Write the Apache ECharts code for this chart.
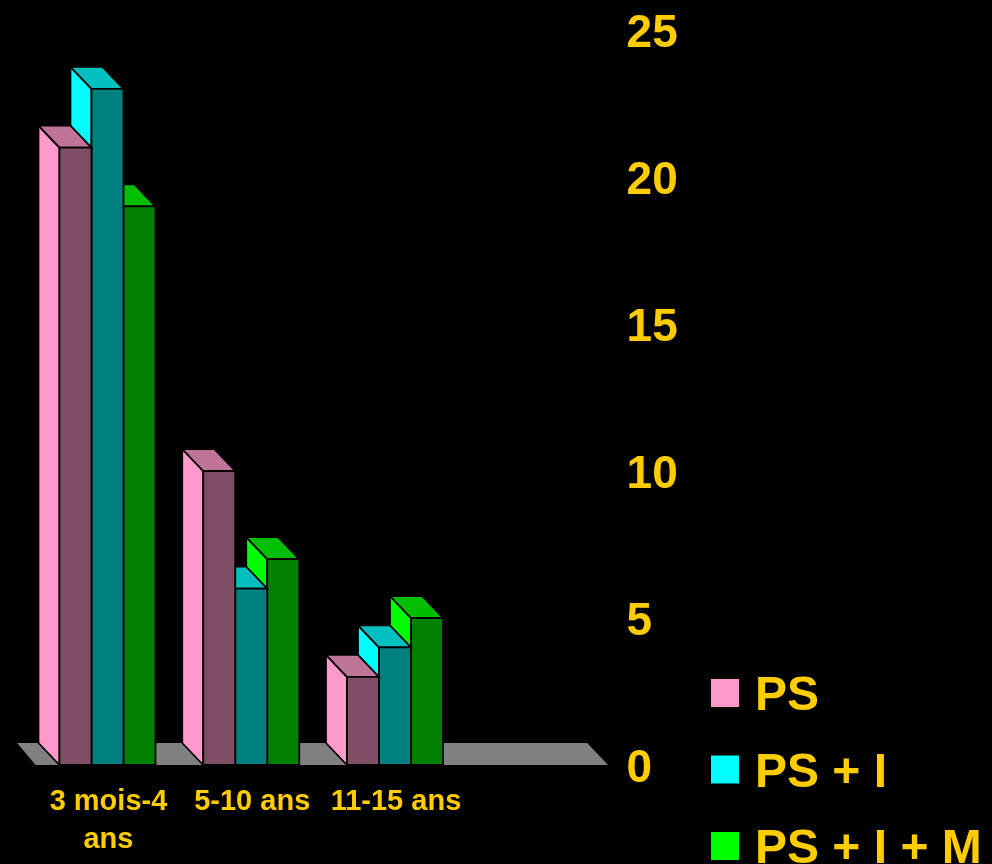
<!DOCTYPE html>
<html>
<head>
<meta charset="utf-8">
<style>
  html, body { margin: 0; padding: 0; background: #000; overflow: hidden; }
  #chart { width: 992px; height: 864px; }
</style>
<script src="https://cdn.jsdelivr.net/npm/echarts@6/dist/echarts.min.js"></script>
</head>
<body>
<div id="chart"></div>
<script>
// Age groups; the fourth slot is left empty on purpose.
const categories = ['3 mois-4\nans', '5-10 ans', '11-15 ans', ''];
const valuesPS = [21, 10, 3];
const valuesPSI = [23, 6, 4];
const valuesPSIM = [19, 7, 5];
const yTicks = [0, 5, 10, 15, 20, 25];

const GOLD = '#FFCC00';
const DEPTH_X = 21;
const DEPTH_Y = 22;
const BAR_RATIO = 32 / 143.75;
const FLOOR_INSET = 2.5;

function shade(hex, k) {
  const n = parseInt(hex.slice(1), 16);
  const c = [(n >> 16) & 255, (n >> 8) & 255, n & 255].map(v => Math.round(v * k));
  return 'rgb(' + c.join(',') + ')';
}

// Box with a lit left side, a mid-tone top and a dark front, receding up and left.
function boxRenderer(slot, base) {
  return function (params, api) {
    const top = api.coord([api.value(0), api.value(1)]);
    const bottom = api.coord([api.value(0), 0]);
    const w = api.size([1, 0])[0] * BAR_RATIO;
    const x0 = top[0] - 1.5 * w + slot * w;
    const x1 = x0 + w;
    const yT = top[1];
    const yB = bottom[1];
    const stroke = { stroke: '#000', lineWidth: 1.8, lineJoin: 'miter' };
    const face = (pts, fill) => ({
      type: 'polygon',
      shape: { points: pts },
      style: Object.assign({ fill: fill }, stroke)
    });
    return {
      type: 'group',
      children: [
        face([[x0 - DEPTH_X, yT - DEPTH_Y], [x0, yT], [x0, yB], [x0 - DEPTH_X, yB - DEPTH_Y]], base),
        face([[x0 - DEPTH_X, yT - DEPTH_Y], [x1 - DEPTH_X, yT - DEPTH_Y], [x1, yT], [x0, yT]], shade(base, 0.75)),
        face([[x0, yT], [x1, yT], [x1, yB], [x0, yB]], shade(base, 0.5))
      ]
    };
  };
}

// Grey floor running under the whole category axis.
function floorRenderer(params) {
  const g = params.coordSys;
  const yB = g.y + g.height;
  const xR = g.x + g.width - FLOOR_INSET;
  return {
    type: 'polygon',
    shape: {
      points: [
        [g.x, yB],
        [g.x - DEPTH_X + 2.5, yB - DEPTH_Y],
        [xR - DEPTH_X, yB - DEPTH_Y],
        [xR, yB]
      ]
    },
    style: { fill: '#808080' }
  };
}

function boxSeries(name, values, slot, color) {
  return {
    type: 'custom',
    name: name,
    coordinateSystem: 'cartesian2d',
    clip: false,
    itemStyle: { color: color },
    encode: { x: 0, y: 1 },
    data: values.map((v, i) => [i, v]),
    renderItem: boxRenderer(slot, color)
  };
}

const chart = echarts.init(document.getElementById('chart'), null, { renderer: 'canvas' });
chart.setOption({
  animation: false,
  backgroundColor: '#000',
  grid: { left: 35.6, top: 30, width: 575, height: 735 },
  legend: {
    data: ['PS', 'PS + I', 'PS + I + M'],
    orient: 'vertical',
    left: 711,
    top: 673,
    height: 400,
    padding: 0,
    icon: 'rect',
    itemWidth: 28,
    itemHeight: 28,
    itemGap: 28.5,
    itemStyle: { borderWidth: 0 },
    selectedMode: false,
    formatter: '{t|{name}}',
    textStyle: {
      color: GOLD,
      fontFamily: 'Liberation Sans',
      fontWeight: 'bold',
      fontSize: 48,
      padding: [0, 0, 0, 11],
      rich: {
        t: {
          color: GOLD,
          fontFamily: 'Liberation Sans',
          fontWeight: 'bold',
          fontSize: 48,
          padding: [8, 0, 0, 0]
        }
      }
    }
  },
  xAxis: {
    type: 'category',
    data: categories,
    axisLine: { show: false },
    axisTick: { show: false },
    splitLine: { show: false },
    axisLabel: {
      interval: 0,
      color: GOLD,
      fontFamily: 'Liberation Sans',
      fontWeight: 'bold',
      fontSize: 29,
      lineHeight: 38,
      margin: 18,
      padding: [0, 0, 0, 2]
    }
  },
  yAxis: {
    type: 'value',
    position: 'right',
    min: yTicks[0],
    max: yTicks[yTicks.length - 1],
    interval: yTicks[1] - yTicks[0],
    axisLine: { show: false },
    axisTick: { show: false },
    splitLine: { show: false },
    axisLabel: {
      color: GOLD,
      fontFamily: 'Liberation Sans',
      fontWeight: 'bold',
      fontSize: 46,
      margin: 16,
      align: 'left',
      verticalAlign: 'top',
      lineHeight: 8
    }
  },
  series: [
    {
      type: 'custom',
      name: 'floor',
      coordinateSystem: 'cartesian2d',
      silent: true,
      data: [[0, 0]],
      renderItem: floorRenderer
    },
    // Right-most box first so each box overlaps the one behind it.
    boxSeries('PS + I + M', valuesPSIM, 2, '#00FF00'),
    boxSeries('PS + I', valuesPSI, 1, '#00FFFF'),
    boxSeries('PS', valuesPS, 0, '#FF99CC')
  ]
});
</script>
</body>
</html>
